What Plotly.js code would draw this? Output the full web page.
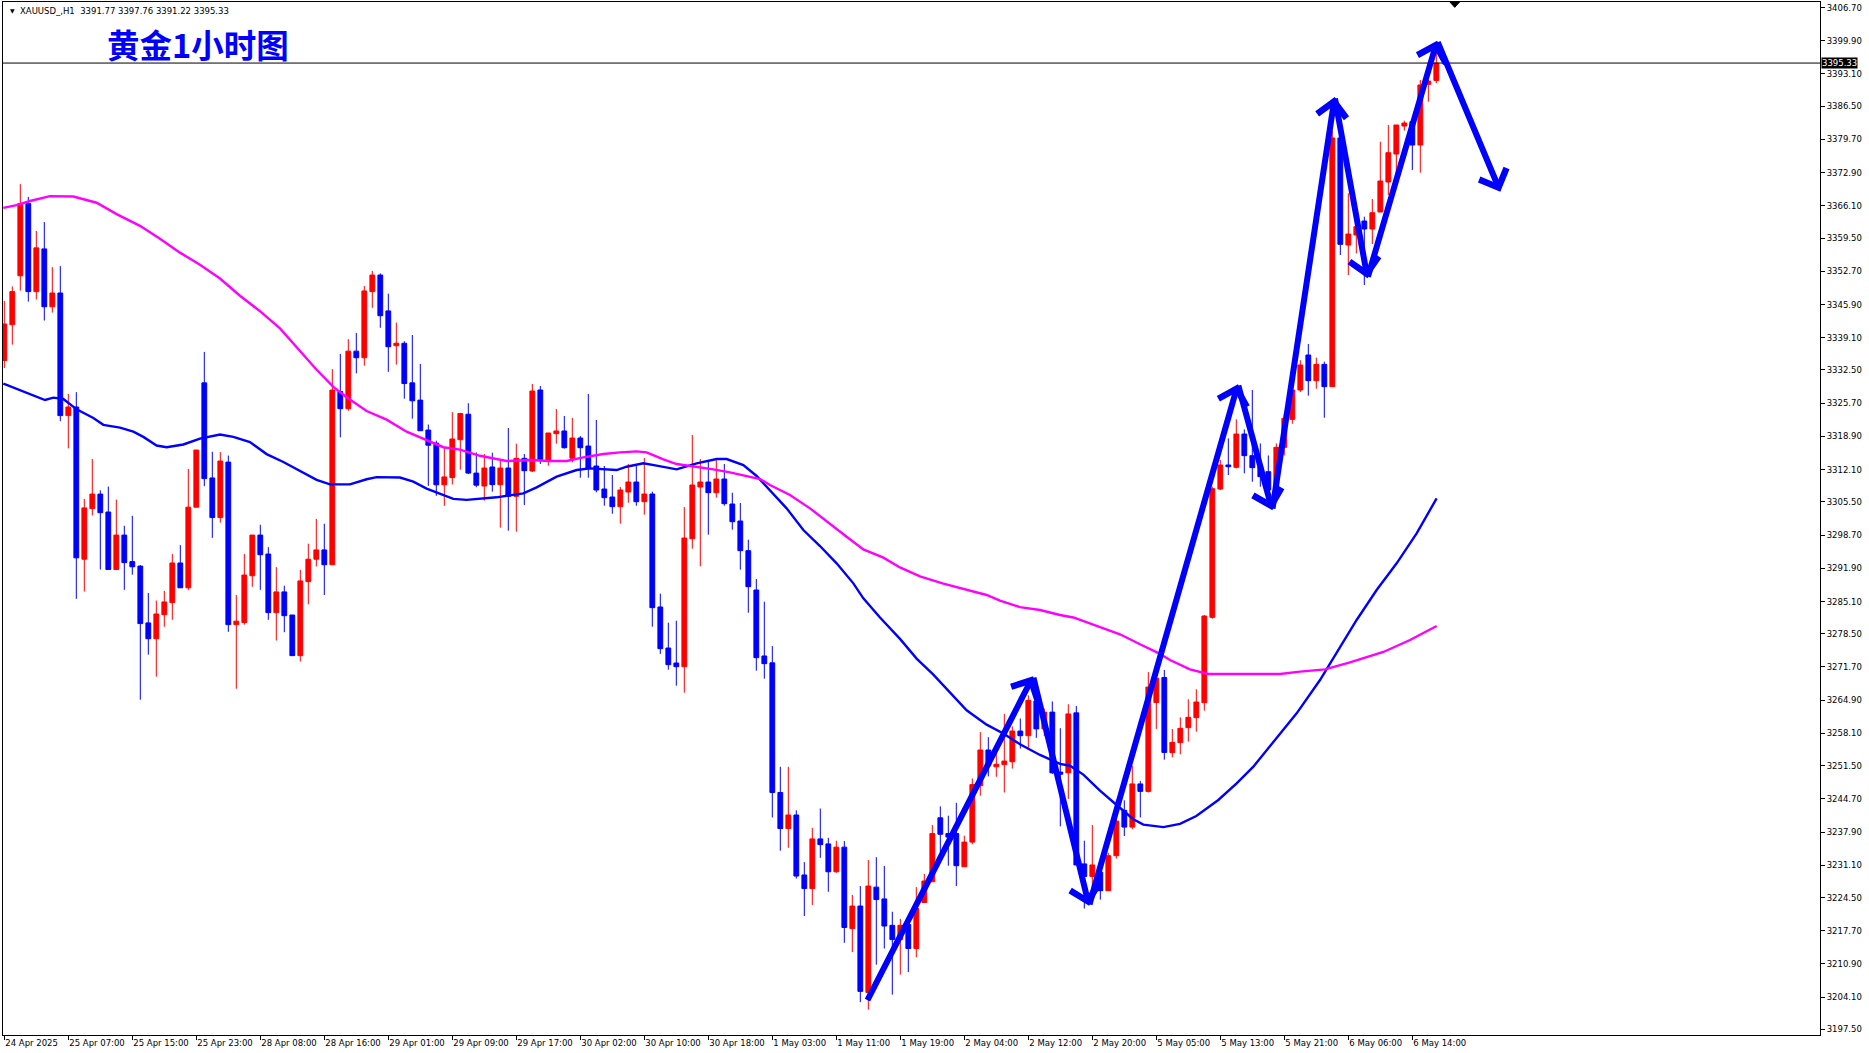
<!DOCTYPE html>
<html><head><meta charset="utf-8">
<script src="https://cdn.plot.ly/plotly-3.0.1.min.js"></script>
<style>html,body{margin:0;padding:0;background:#fff;overflow:hidden}#chart{width:1869px;height:1053px}</style>
</head><body><div id="chart"></div>
<script>
// XAUUSD H1 candles (first bar 24 Apr 23:00, last bar 6 May 17:00)
const opens = [3334.44,3341.77,3351.79,3366.59,3348.54,3357.29,3345.44,3348.26,3323.16,3324.92,
3293.76,3304.13,3307.09,3303.42,3291.65,3298.70,3293.27,3292.35,3280.72,3277.48,
3282.41,3284.88,3292.99,3287.91,3304.41,3329.86,3310.40,3302.29,3313.64,3280.37,
3280.79,3290.38,3298.70,3294.82,3282.83,3287.07,3282.34,3274.02,3289.18,3293.76,
3295.67,3292.63,3328.10,3324.57,3336.35,3335.01,3348.54,3351.93,3344.59,3337.47,
3337.97,3329.86,3326.33,3320.20,3317.52,3308.99,3310.47,3318.23,3323.44,3311.39,
3308.75,3312.64,3309.02,3312.43,3306.63,3314.41,3311.82,3328.40,3314.07,3319.46,
3320.01,3314.41,3318.57,3316.93,3312.84,3308.13,3306.49,3304.52,3307.52,3309.56,
3305.54,3307.11,3283.98,3275.58,3272.51,3271.76,3297.96,3308.54,3309.56,3307.38,
3310.18,3305.06,3301.58,3295.51,3287.46,3273.95,3272.55,3246.01,3238.62,3241.40,
3229.12,3226.34,3236.50,3235.48,3229.78,3234.82,3218.15,3222.76,3205.07,3226.63,
3224.22,3218.81,3215.89,3218.96,3214.06,3223.49,3227.73,3240.82,3237.60,3237.60,
3230.80,3235.85,3247.40,3254.71,3251.27,3251.71,3252.30,3258.58,3257.63,3264.72,
3259.02,3262.46,3250.18,3250.03,3262.31,3231.39,3228.83,3229.70,3225.90,3233.07,
3242.35,3238.92,3247.76,3246.23,3264.43,3269.55,3254.16,3256.21,3259.28,3261.32,
3264.39,3281.86,3308.13,3313.05,3312.57,3319.39,3314.96,3312.70,3311.68,3308.50,
3316.66,3322.39,3328.40,3335.56,3330.31,3333.65,3329.08,3380.00,3358.08,3360.13,
3362.99,3361.36,3364.84,3370.98,3376.71,3382.44,3383.33,3378.55,3390.97,3391.77];
const highs = [3346.64,3349.60,3370.54,3367.93,3360.95,3362.78,3353.55,3353.76,3327.60,3327.96,
3306.10,3314.28,3307.86,3308.64,3305.96,3300.60,3302.65,3292.56,3286.85,3285.30,
3287.28,3294.82,3296.65,3312.23,3316.11,3336.20,3315.76,3315.69,3314.98,3286.43,
3294.82,3298.70,3300.81,3296.23,3292.14,3288.33,3282.34,3291.58,3296.94,3302.01,
3301.02,3332.68,3335.78,3338.81,3340.08,3349.67,3352.77,3352.28,3348.12,3342.20,
3338.39,3339.66,3333.74,3321.33,3318.02,3316.61,3323.87,3323.73,3325.70,3315.62,
3315.30,3315.57,3314.07,3320.62,3317.41,3315.30,3329.63,3329.22,3319.60,3324.51,
3323.08,3322.67,3318.98,3327.58,3322.26,3312.84,3311.00,3308.54,3313.25,3313.25,
3314.48,3307.59,3286.71,3280.77,3281.18,3304.45,3319.19,3314.27,3313.66,3314.27,
3313.25,3307.38,3305.27,3297.76,3289.71,3285.07,3275.98,3251.27,3251.27,3242.35,
3231.75,3238.77,3242.72,3236.72,3236.14,3236.07,3225.03,3226.85,3232.19,3232.77,
3230.95,3221.59,3220.13,3220.42,3226.63,3229.34,3239.36,3243.16,3241.26,3243.89,
3237.16,3248.86,3258.36,3257.34,3255.59,3262.09,3259.53,3261.14,3265.89,3265.46,
3263.19,3264.65,3259.17,3264.07,3263.70,3236.14,3239.36,3231.02,3233.65,3244.55,
3244.40,3251.49,3248.35,3270.65,3270.50,3271.09,3259.00,3261.39,3265.08,3267.12,
3282.34,3308.61,3314.07,3318.50,3322.39,3320.35,3328.40,3317.48,3315.00,3317.48,
3323.50,3329.00,3334.50,3337.81,3335.02,3334.20,3381.50,3386.00,3368.66,3363.20,
3363.88,3367.50,3379.23,3382.65,3382.65,3383.53,3383.67,3391.86,3391.86,3397.76];
const lows = [3332.89,3337.69,3348.75,3346.50,3346.92,3342.62,3344.24,3322.03,3316.46,3285.65,
3287.14,3302.72,3291.65,3291.65,3291.65,3287.49,3290.59,3265.00,3274.23,3269.72,
3279.94,3281.36,3287.91,3287.42,3304.41,3308.71,3298.13,3301.24,3278.89,3267.25,
3280.37,3288.12,3287.49,3281.36,3277.12,3278.82,3274.02,3272.82,3284.53,3292.28,
3286.43,3292.63,3318.72,3324.15,3331.83,3333.38,3345.23,3341.14,3332.12,3333.60,
3326.62,3322.53,3320.06,3308.78,3306.74,3304.69,3309.06,3312.09,3311.18,3308.50,
3305.74,3307.59,3300.22,3299.60,3299.40,3304.86,3311.61,3313.25,3312.91,3317.41,
3316.39,3313.59,3310.45,3310.45,3307.45,3304.72,3303.08,3301.03,3305.33,3304.72,
3302.88,3279.95,3274.36,3271.15,3267.87,3266.44,3295.92,3292.30,3298.78,3306.36,
3304.72,3299.81,3291.62,3282.82,3270.94,3269.31,3240.89,3234.09,3234.68,3228.39,
3220.71,3222.98,3232.63,3225.68,3229.56,3215.23,3213.33,3203.09,3201.56,3210.77,
3214.06,3204.63,3208.72,3209.23,3212.30,3223.49,3227.73,3232.48,3231.02,3226.85,
3230.80,3235.41,3245.35,3249.30,3249.22,3246.01,3250.91,3255.00,3255.15,3257.19,
3257.56,3249.81,3239.07,3244.69,3231.17,3222.25,3225.17,3224.08,3225.90,3232.48,
3237.09,3238.48,3240.89,3246.01,3259.02,3252.73,3253.20,3253.82,3256.41,3258.46,
3262.76,3281.59,3307.93,3311.00,3312.36,3311.34,3309.63,3308.61,3305.54,3307.50,
3315.00,3321.50,3328.00,3327.24,3328.67,3322.73,3329.08,3356.03,3351.94,3356.37,
3349.89,3358.29,3364.84,3368.32,3372.07,3381.50,3373.43,3372.89,3387.42,3391.22];
const closes = [3341.92,3348.54,3366.59,3348.54,3357.50,3345.44,3348.26,3323.16,3324.92,3294.04,
3304.27,3307.09,3303.28,3291.65,3298.70,3293.06,3292.21,3280.58,3277.48,3282.55,
3285.02,3292.99,3287.91,3304.41,3316.11,3310.26,3302.29,3313.86,3280.37,3281.07,
3290.52,3298.70,3294.68,3282.83,3287.07,3282.20,3274.02,3289.32,3293.76,3295.67,
3292.63,3328.38,3324.57,3336.35,3335.01,3348.68,3351.93,3343.61,3337.26,3337.97,
3329.72,3326.19,3320.06,3317.10,3308.99,3310.61,3318.37,3323.59,3311.39,3308.92,
3312.43,3309.02,3312.43,3306.63,3314.41,3311.88,3328.19,3314.20,3319.60,3320.01,
3316.59,3318.57,3316.59,3312.43,3307.93,3306.36,3304.52,3307.93,3309.56,3305.54,
3307.11,3283.84,3275.45,3272.17,3271.76,3298.10,3308.95,3309.56,3307.38,3310.18,
3305.13,3301.44,3295.51,3288.14,3273.60,3272.38,3246.01,3238.62,3241.40,3228.90,
3226.34,3236.50,3235.33,3229.78,3234.82,3218.37,3222.76,3205.29,3226.85,3224.08,
3218.67,3215.89,3218.81,3214.06,3222.25,3227.88,3237.60,3237.45,3236.87,3231.02,
3235.85,3247.62,3254.71,3251.49,3251.78,3252.44,3258.58,3257.63,3264.87,3259.02,
3262.46,3250.03,3249.74,3262.09,3231.17,3228.83,3231.17,3225.90,3233.07,3240.16,
3238.92,3247.76,3246.23,3267.58,3269.40,3254.20,3256.27,3259.14,3261.39,3264.53,
3282.13,3308.20,3313.05,3312.70,3319.39,3314.96,3312.50,3310.66,3307.93,3316.66,
3322.60,3328.40,3333.52,3330.31,3333.65,3329.08,3380.00,3358.22,3360.33,3361.83,
3361.36,3364.70,3371.18,3376.98,3382.65,3383.06,3378.55,3390.83,3391.65,3395.33];

const tickLabels = ['24 Apr 2025','25 Apr 07:00','25 Apr 15:00','25 Apr 23:00','28 Apr 08:00','28 Apr 16:00',
'29 Apr 01:00','29 Apr 09:00','29 Apr 17:00','30 Apr 02:00','30 Apr 10:00','30 Apr 18:00','1 May 03:00',
'1 May 11:00','1 May 19:00','2 May 04:00','2 May 12:00','2 May 20:00','5 May 05:00','5 May 13:00',
'5 May 21:00','6 May 06:00','6 May 14:00'];
const tickBars = [0,8,16,24,32,40,48,56,64,72,80,88,96,104,112,120,128,136,144,152,160,168,176];
const priceTicks = [3406.70,3399.90,3393.10,3386.50,3379.70,3372.90,3366.10,3359.50,3352.70,3345.90,
3339.10,3332.50,3325.70,3318.90,3312.10,3305.50,3298.70,3291.90,3285.10,3278.50,3271.70,3264.90,
3258.10,3251.50,3244.70,3237.90,3231.10,3224.50,3217.70,3210.90,3204.10,3197.50];

// moving averages (bar position, price)
const maBlueBar = [-0.12,1.96,3.63,5.09,6.13,7.38,9.04,11.13,12.38,14.46,16.13,17.38,19.04,20.29,22.38,24.46,26.96,28.63,30.71,32.79,34.88,36.96,39.04,40.71,43.21,45.29,46.54,49.46,51.13,52.79,54.88,56.13,57.79,59.46,61.54,64.88,66.54,69.04,71.54,73.21,76.54,77.79,79.88,81.54,84.04,86.54,89.04,90.29,92.38,94.04,95.71,97.79,99.88,101.96,104.04,106.13,107.38,109.46,111.96,114.04,116.13,118.63,120.29,122.79,124.88,126.96,129.46,131.96,133.21,134.88,136.96,139.04,141.13,142.38,144.88,146.96,149.0,151.75,154.04,156.13,159.04,161.54,164.46,166.54,169.04,171.54,174.04,176.54,179.04];
const maBlueVal = [3329.73,3328.32,3327.26,3326.35,3326.84,3326.56,3324.44,3322.68,3321.27,3320.70,3319.86,3318.80,3317.04,3316.69,3317.25,3318.45,3319.30,3318.80,3317.75,3315.28,3313.66,3311.76,3309.99,3309.08,3309.08,3310.13,3310.56,3310.49,3309.64,3308.23,3306.82,3306.12,3305.90,3306.12,3306.43,3307.25,3308.47,3310.66,3312.02,3312.36,3312.02,3312.70,3313.39,3312.91,3312.16,3313.39,3314.27,3314.27,3313.04,3310.80,3307.93,3304.17,3299.74,3296.46,3292.92,3288.82,3285.75,3281.83,3277.45,3273.42,3270.13,3265.75,3262.82,3259.90,3258.07,3255.88,3253.69,3251.86,3251.49,3249.67,3246.37,3243.45,3240.53,3239.43,3238.92,3239.57,3241.20,3244.47,3247.88,3251.29,3257.09,3262.21,3269.03,3274.49,3281.32,3287.46,3292.92,3299.06,3306.22];
const maPinkBar = [-0.12,1.54,3.21,5.71,8.63,11.54,14.04,16.96,19.46,21.96,24.46,26.96,29.46,31.96,34.46,36.96,39.04,41.13,42.79,45.29,47.79,50.29,52.79,54.88,56.96,59.46,62.79,65.71,68.21,70.29,72.38,74.88,76.96,79.04,80.29,82.38,84.04,86.54,88.63,90.71,92.79,94.46,95.71,98.21,100.71,103.21,105.29,107.38,109.88,111.96,114.46,117.38,120.29,122.79,124.46,126.96,129.46,131.96,133.63,136.13,139.46,141.96,144.46,145.71,148.21,150.50,154.46,159.46,161.96,165.08,168.21,172.38,175.71,179.04];
const maPinkVal = [3365.69,3366.25,3367.09,3368.08,3368.01,3366.74,3364.41,3362.01,3359.34,3356.52,3354.05,3351.23,3347.70,3344.53,3341.01,3336.43,3332.55,3329.03,3326.91,3324.09,3322.33,3319.86,3318.10,3316.69,3316.19,3314.93,3313.86,3314.07,3313.86,3313.86,3314.61,3315.30,3315.64,3315.84,3315.64,3314.20,3313.25,3312.70,3312.16,3311.54,3310.86,3310.18,3308.95,3306.90,3304.17,3300.90,3298.37,3295.78,3294.08,3292.07,3290.24,3288.78,3287.46,3286.44,3285.27,3283.95,3283.37,3282.34,3281.83,3280.37,3278.40,3276.35,3274.37,3273.13,3271.22,3270.26,3270.26,3270.26,3270.74,3271.22,3272.65,3274.77,3277.22,3280.09];

// hand-drawn arrow path (bar position, price)
const arrowBar = [107.8,128.6,135.6,154.2,158.5,166.3,170.4,179.1,187.0];
const arrowPrice = [3203.2,3269.8,3222.8,3329.6,3303.8,3388.4,3351.3,3399.9,3369.0];

const lastPrice = 3395.33;
const headerText = 'XAUUSD_,H1  3391.77 3397.76 3391.22 3395.33';
const titleText = '黄金1小时图';
const shiftMarkBar = 181.3;

const barIdx = opens.map((_, k) => k);
const yMin = 3196.36, yMax = 3407.83;
const tickFont = {family: 'DejaVu Sans, sans-serif', size: 8.5, color: '#000'};

const traces = [
  {type: 'candlestick', x: barIdx, open: opens, high: highs, low: lows, close: closes,
   increasing: {line: {color: '#FF0000', width: 1}, fillcolor: '#FF0000'},
   decreasing: {line: {color: '#0000FF', width: 1}, fillcolor: '#0000FF'},
   whiskerwidth: 0, hoverinfo: 'skip', showlegend: false},
  {type: 'scatter', mode: 'lines', x: maBlueBar, y: maBlueVal, line: {color: '#0000FF', width: 2.4}, hoverinfo: 'skip', showlegend: false},
  {type: 'scatter', mode: 'lines', x: maPinkBar, y: maPinkVal, line: {color: '#FF00FF', width: 2.4}, hoverinfo: 'skip', showlegend: false}
];

const annotations = [];
for (let k = 0; k < arrowBar.length - 1; k++) {
  annotations.push({x: arrowBar[k+1], y: arrowPrice[k+1], ax: arrowBar[k], ay: arrowPrice[k],
    xref: 'x', yref: 'y', axref: 'x', ayref: 'y', text: '', showarrow: true,
    arrowhead: 4, arrowsize: 0.95, arrowwidth: 6, arrowcolor: '#0000FF'});
}
annotations.push({xref: 'paper', yref: 'paper', x: 15/1817, y: 1 - 9/1033, xanchor: 'left', yanchor: 'middle',
  text: headerText, showarrow: false, font: {family: 'DejaVu Sans, sans-serif', size: 8.5, color: '#000'}});
annotations.push({xref: 'paper', yref: 'paper', x: 5/1817, y: 1 - 9/1033, xanchor: 'left', yanchor: 'middle',
  text: '▼', showarrow: false, font: {family: 'DejaVu Sans, sans-serif', size: 6, color: '#000'}});
annotations.push({xref: 'paper', yref: 'paper', x: 102/1817, y: 1 - 42/1033, xanchor: 'left', yanchor: 'middle',
  text: '<b>' + titleText + '</b>', showarrow: false, font: {family: 'Noto Sans CJK SC, sans-serif', size: 32.5, color: '#0000FF'}});
annotations.push({xref: 'paper', yref: 'y', x: 1, y: lastPrice, xanchor: 'left', yanchor: 'middle', xshift: 1,
  text: lastPrice.toFixed(2), showarrow: false, bgcolor: '#000', borderpad: 0,
  font: {family: 'DejaVu Sans, sans-serif', size: 8.5, color: '#fff'}});

const shapes = [
  {type: 'line', xref: 'paper', yref: 'y', x0: 0, x1: 1, y0: lastPrice, y1: lastPrice, line: {color: '#000', width: 1}},
  {type: 'path', xref: 'x', yref: 'y', path: `M ${shiftMarkBar-0.6},${yMax} L ${shiftMarkBar+0.6},${yMax} L ${shiftMarkBar},${yMax-1.1} Z`,
   fillcolor: '#000', line: {color: '#000', width: 1}}
];

const layout = {
  width: 1869, height: 1053,
  margin: {l: 3, r: 49, t: 2, b: 18, pad: 0},
  paper_bgcolor: '#fff', plot_bgcolor: '#fff',
  showlegend: false, hovermode: false,
  boxgap: 0.4, boxgroupgap: 0,
  xaxis: {range: [-0.1625, 226.96], showgrid: false, zeroline: false, showline: true, mirror: true,
    linecolor: '#000', linewidth: 1, ticks: 'outside', ticklen: 4, tickcolor: '#000', tickwidth: 1,
    tickvals: tickBars, ticktext: tickLabels, ticklabelposition: 'outside right', tickangle: 0,
    tickfont: tickFont, ticklabelstandoff: 0,
    rangeslider: {visible: false}, automargin: false, fixedrange: true},
  yaxis: {side: 'right', range: [yMin, yMax], showgrid: false, zeroline: false, showline: true, mirror: true,
    linecolor: '#000', linewidth: 1, ticks: 'outside', ticklen: 4, tickcolor: '#000', tickwidth: 1,
    tickvals: priceTicks, ticktext: priceTicks.map(v => v.toFixed(2)), tickfont: tickFont,
    automargin: false, fixedrange: true},
  annotations: annotations,
  shapes: shapes
};

Plotly.newPlot('chart', traces, layout, {staticPlot: true, displayModeBar: false});
</script>
</body></html>
